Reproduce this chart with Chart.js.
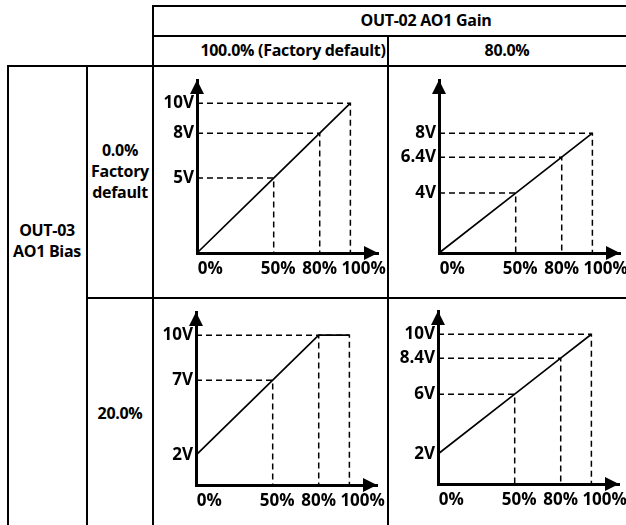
<!DOCTYPE html>
<html>
<head>
<meta charset="utf-8">
<script src="https://cdn.jsdelivr.net/npm/chart.js@4.4.0/dist/chart.umd.min.js"></script>
<style>
  html, body { margin: 0; padding: 0; background: #fff; }
  body { width: 626px; height: 525px; position: relative; overflow: hidden;
         font-family: "Open Sans", sans-serif; font-weight: 700; color: #000; }
  .ln { position: absolute; background: #000; }
  .t { position: absolute; font-size: 16px; line-height: 21px; text-align: center;
       white-space: nowrap; transform: translate(-50%, -50%); letter-spacing: -0.3px; }
  canvas { position: absolute; }
</style>
</head>
<body>
<!-- table rules -->
<div class="ln" style="left:152px;top:5px;width:474px;height:2px"></div>
<div class="ln" style="left:152px;top:35px;width:474px;height:2px"></div>
<div class="ln" style="left:7px;top:65px;width:619px;height:2px"></div>
<div class="ln" style="left:86px;top:297px;width:540px;height:2px"></div>
<div class="ln" style="left:7px;top:65px;width:2px;height:460px"></div>
<div class="ln" style="left:86px;top:65px;width:2px;height:460px"></div>
<div class="ln" style="left:152px;top:5px;width:2px;height:520px"></div>
<div class="ln" style="left:387px;top:35px;width:2px;height:490px"></div>

<div class="t" style="left:426px;top:20px">OUT-02 AO1 Gain</div>
<div class="t" style="left:293px;top:50px">100.0% (Factory default)</div>
<div class="t" style="left:507px;top:50px">80.0%</div>
<div class="t" style="left:47px;top:241px">OUT-03<br>AO1 Bias</div>
<div class="t" style="left:120px;top:171px">0.0%<br>Factory<br>default</div>
<div class="t" style="left:120px;top:413px">20.0%</div>

<canvas id="c1" width="261" height="213" style="left:147px;top:72px"></canvas>
<canvas id="c2" width="261" height="213" style="left:389px;top:72px"></canvas>
<canvas id="c3" width="261" height="213" style="left:146px;top:304px"></canvas>
<canvas id="c4" width="261" height="213" style="left:388px;top:303px"></canvas>

<script>
// input (%) at which output is marked
const inputPct = [0, 50, 80, 100];
const inputLabels = ["0%", "50%", "80%", "100%"];
// output voltage at each input, one list per gain/bias combination
const outGain100Bias0 = [0, 5, 8, 10];
const outGain80Bias0 = [0, 4, 6.4, 8];
const outGain100Bias20 = [2, 7, 10, 10];
const outGain80Bias20 = [2, 6, 8.4, 10];

const labelShift = ["      ", "  ", "", "      "]; // nudges x labels like the drawing

const arrows = {
  id: "arrows",
  afterDraw(chart) {
    const { ctx, chartArea: a } = chart;
    ctx.save();
    ctx.fillStyle = "#000";
    ctx.beginPath();
    ctx.moveTo(a.left, a.top);
    ctx.lineTo(a.left - 7, a.top + 14);
    ctx.lineTo(a.left + 7, a.top + 14);
    ctx.closePath();
    ctx.fill();
    ctx.beginPath();
    ctx.moveTo(a.right, a.bottom);
    ctx.lineTo(a.right - 14, a.bottom - 7);
    ctx.lineTo(a.right - 14, a.bottom + 7);
    ctx.closePath();
    ctx.fill();
    ctx.restore();
  },
};

function makeChart(id, volts) {
  const pts = inputPct.map((p, i) => ({ x: p, y: volts[i] }));
  const yTicks = [...new Set(volts)].filter((v) => v > 0);
  // dashed guides: from y axis across to the point, then down to x axis
  const guides = [];
  inputPct.forEach((p, i) => {
    if (p === 0) return;
    guides.push({ x: 0, y: volts[i] }, { x: p, y: volts[i] }, { x: p, y: 0 }, { x: null, y: null });
  });
  const font = { family: "Open Sans", size: 17, weight: "bold" };

  return new Chart(document.getElementById(id), {
    type: "scatter",
    plugins: [arrows],
    data: {
      datasets: [
        {
          data: pts,
          showLine: true,
          borderColor: "#000",
          borderWidth: 1.7,
          pointRadius: 0,
          clip: false,
          order: 0,
        },
        {
          data: guides,
          showLine: true,
          spanGaps: false,
          borderColor: "#000",
          borderWidth: 1.5,
          borderDash: [6, 4],
          pointRadius: 0,
          clip: false,
          order: 1,
        },
      ],
    },
    options: {
      responsive: false,
      animation: false,
      devicePixelRatio: 1,
      layout: { padding: { top: 8, right: 30, left: 0, bottom: 0 } },
      plugins: { legend: { display: false }, tooltip: { enabled: false } },
      scales: {
        x: {
          type: "linear",
          min: 0,
          max: 118,
          afterBuildTicks: (s) => { s.ticks = inputPct.map((v) => ({ value: v })); },
          afterFit: (s) => { s.height = 32; s.paddingLeft = 0; s.paddingRight = 0; },
          grid: { display: false, drawTicks: false },
          border: { display: true, color: "#000", width: 3 },
          ticks: {
            color: "#000",
            font: font,
            padding: 6,
            maxRotation: 0,
            autoSkip: false,
            callback: (v) => {
              const i = inputPct.indexOf(v);
              return labelShift[i] + inputLabels[i];
            },
          },
        },
        y: {
          type: "linear",
          min: 0,
          max: 11.55,
          afterBuildTicks: (s) => { s.ticks = yTicks.map((v) => ({ value: v })); },
          afterFit: (s) => { s.width = 50; s.paddingTop = 0; s.paddingBottom = 0; },
          grid: { display: false, drawTicks: false },
          border: { display: true, color: "#000", width: 3 },
          ticks: {
            color: "#000",
            font: font,
            padding: 3,
            autoSkip: false,
            callback: (v) => v + "V",
          },
        },
      },
    },
  });
}

makeChart("c1", outGain100Bias0);
makeChart("c2", outGain80Bias0);
makeChart("c3", outGain100Bias20);
makeChart("c4", outGain80Bias20);
</script>
</body>
</html>
